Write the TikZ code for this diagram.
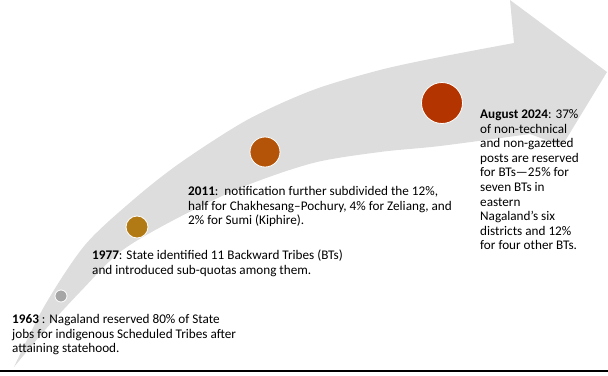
\documentclass[tikz,border=0pt]{standalone}
\usepackage{fontspec}
\setmainfont{Carlito}
\definecolor{bandgray}{RGB}{221,221,221}
\definecolor{dotA}{RGB}{166,166,166}
\definecolor{dotB}{RGB}{178,122,20}
\definecolor{dotC}{RGB}{180,84,8}
\definecolor{dotD}{RGB}{180,52,0}
\tikzset{
  milestone/.style={circle,draw=white,line width=0.8pt,inner sep=0pt},
  event/.style={anchor=north west,align=left,inner sep=0pt,
    font=\fontsize{13.2}{14.6}\selectfont}
}
\begin{document}
\begin{tikzpicture}[x=1pt,y=-1pt]
    \useasboundingbox (0,0) rectangle (608,375);

    % Curved timeline arrow
    \fill[bandgray] (14,367)
      plot[smooth] coordinates {(14,367) (45,305) (85,245) (133,200) (180,163) (247,120) (313,90) (380,70) (440,57) (514,43)}
      -- (510,0) -- (607,72) -- (562,146)
      -- plot[smooth] coordinates {(530,134) (440,146) (380,152) (313,163) (240,188) (170,222) (120,252) (80,292) (45,330) (14,367)}
      -- cycle;

    % Base line
    \draw[line width=1.5pt] (0,371) -- (608,371);

    % Milestones
    \node[milestone,fill=dotA,minimum size=12] (m63) at (61,296) {};
    \node[milestone,fill=dotB,minimum size=22] (m77) at (137,227) {};
    \node[milestone,fill=dotC,minimum size=30] (m11) at (265,152) {};
    \node[milestone,fill=dotD,minimum size=41] (m24) at (442,103) {};

    % Event texts (top = first baseline - strut height)
    \node[event] (t63) at (12,313) {\strut\textbf{1963} : Nagaland reserved 80\% of State\\
      jobs for indigenous Scheduled Tribes after\\attaining statehood.};
    \node[event] (t77) at (92,249) {\strut\textbf{1977}: State identified 11 Backward Tribes (BTs)\\
      and introduced sub-quotas among them.};
    \node[event] (t11) at (188,185) {\strut\textbf{2011}:\ \ notification further subdivided the 12\%,\\
      half for Chakhesang--Pochury, 4\% for Zeliang, and\\2\% for Sumi (Kiphire).};
    \node[event] (t24) at (480,108) {\strut\textbf{August 2024}: 37\%\\of non-technical\\
      and non-gazetted\\posts are reserved\\for BTs---25\% for\\seven BTs in\\eastern\\
      Nagaland’s six\\districts and 12\%\\for four other BTs.};
\end{tikzpicture}
\end{document}
